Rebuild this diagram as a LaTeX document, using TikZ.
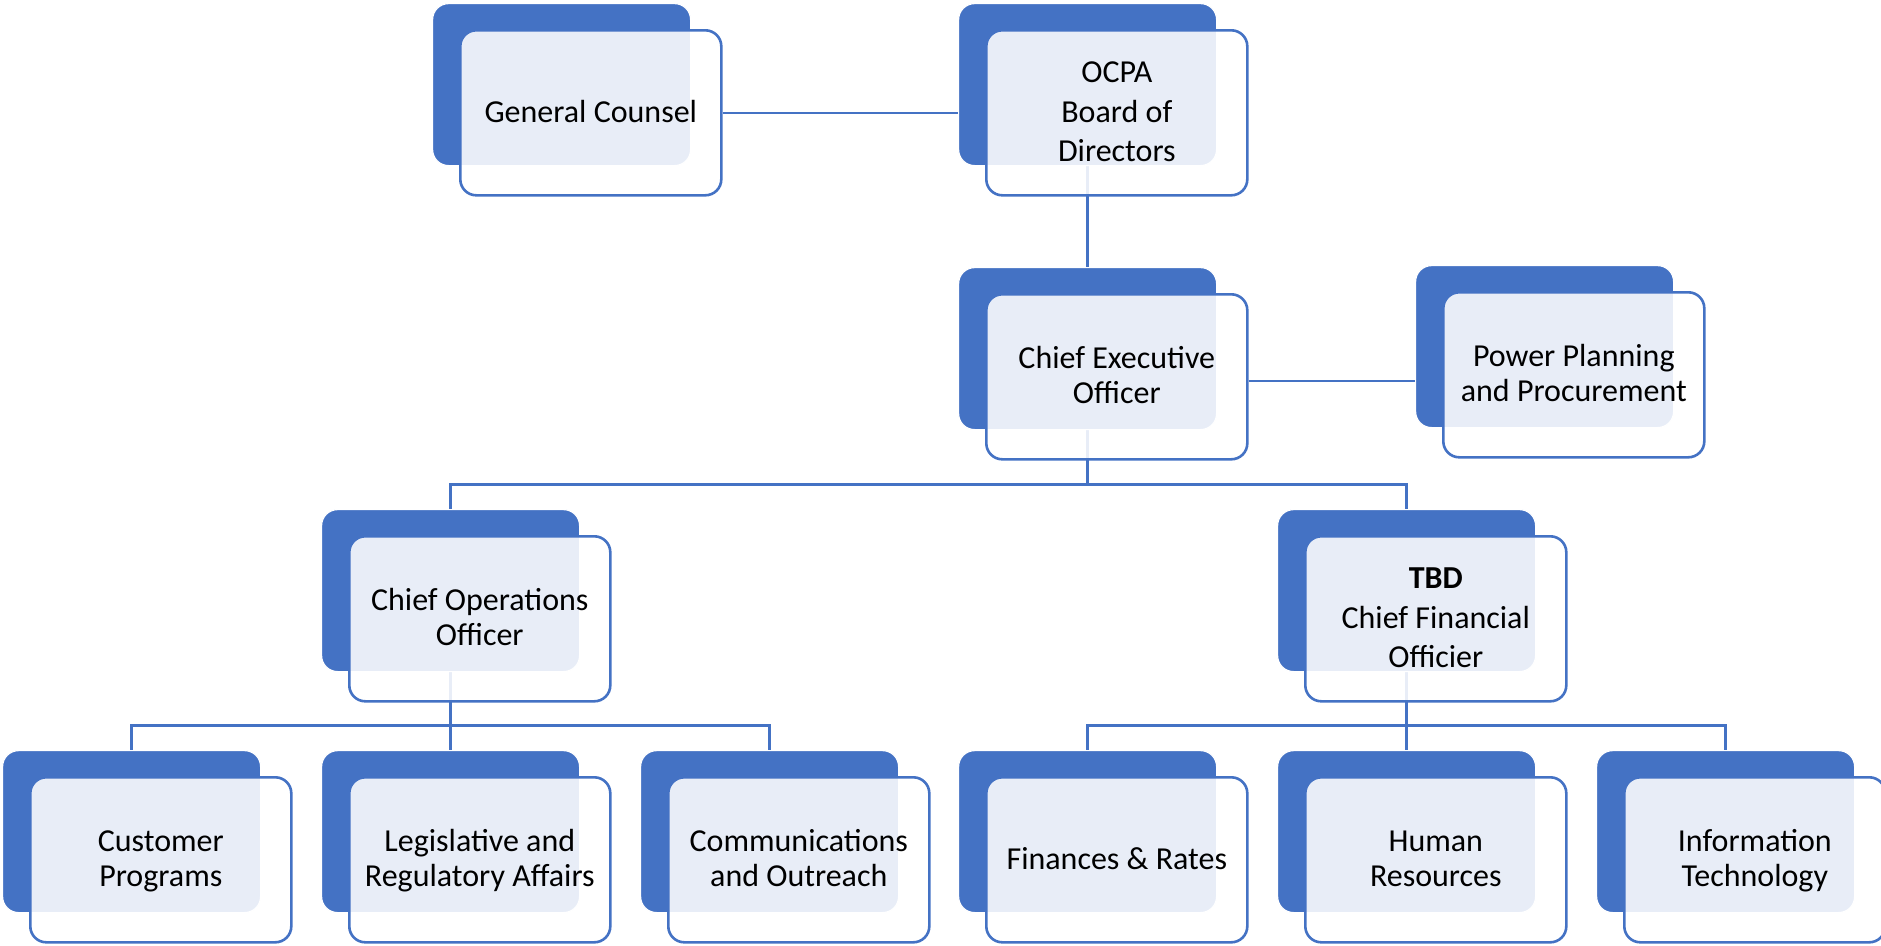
\documentclass[tikz,border=0pt]{standalone}
\usepackage{fontspec}
\setmainfont{Carlito}
\definecolor{ob}{HTML}{4472C4}
\pgfdeclarelayer{bg}
\pgfsetlayers{bg,main}
\newcommand\topstrut{\rule{0pt}{26.5pt}}
\newcommand\orgbox[5][]{%
  \node[backbox] (#2B) at (#3,#4) {};
  \node[frontbox,#1] (#2) at ({#3+27},{#4+26}) {\topstrut#5};}
\begin{document}
\begin{tikzpicture}[x=1pt,y=-1pt,
  backbox/.style={anchor=north west, fill=ob, draw=white, line width=1.2pt, rounded corners=16pt,
    minimum width=258pt, minimum height=162pt, inner sep=0pt},
  frontbox/.style={anchor=north west, fill=white, fill opacity=0.88, text opacity=1, draw=ob,
    line width=2.6pt, rounded corners=16pt, minimum width=261pt, minimum height=165pt,
    inner sep=0pt, align=center, font=\fontsize{32}{35}\selectfont,
    execute at end node={\rule[-8pt]{0pt}{8pt}}},
  tall/.style={font=\fontsize{32}{39.5}\selectfont},
  conn/.style={draw=ob, line width=2.6pt}]
\useasboundingbox (0,0) rectangle (1881,945);
\orgbox{gc}{432}{3}{General Counsel}
\orgbox[tall]{ocpa}{958}{3}{OCPA\\Board of\\Directors}
\orgbox{ceo}{958}{267}{Chief Executive\\Officer}
\orgbox{pp}{1415}{265}{Power Planning\\and Procurement}
\orgbox{coo}{321}{509}{Chief Operations\\Officer}
\orgbox[tall]{cfo}{1277}{509}{\textbf{TBD}\\Chief Financial\\Officier}
\orgbox{cp}{2}{750}{Customer\\Programs}
\orgbox{lra}{321}{750}{Legislative and\\Regulatory Affairs}
\orgbox{co}{640}{750}{Communications\\and Outreach}
\orgbox{fr}{958}{750}{Finances \& Rates}
\orgbox{hr}{1277}{750}{Human\\Resources}
\orgbox{it}{1596}{750}{Information\\Technology}
\begin{pgfonlayer}{bg}
\draw[conn] (gc.east) -- (gc.east -| ocpaB.west);
\draw[conn] (ocpaB.south) -- (ceoB.north);
\draw[conn] ([yshift=-4pt]ceo.east) -- ([yshift=-4pt]ceo.east -| ppB.west);
\draw[conn] (ceoB.south) -- ++(0,54) -| (cooB.north);
\draw[conn] (ceoB.south) -- ++(0,54) -| (cfoB.north);
\draw[conn] (cooB.south) -- ++(0,53) -| (cpB.north);
\draw[conn] (cooB.south) -- (lraB.north);
\draw[conn] (cooB.south) -- ++(0,53) -| (coB.north);
\draw[conn] (cfoB.south) -- ++(0,53) -| (frB.north);
\draw[conn] (cfoB.south) -- (hrB.north);
\draw[conn] (cfoB.south) -- ++(0,53) -| (itB.north);
\end{pgfonlayer}
\end{tikzpicture}
\end{document}
